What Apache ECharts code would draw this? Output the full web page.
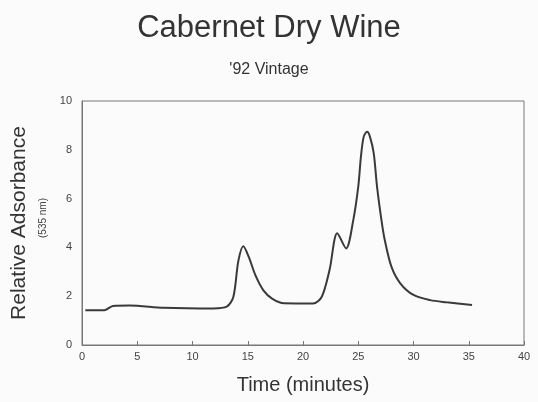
<!DOCTYPE html>
<html><head><meta charset="utf-8">
<script src="https://cdn.jsdelivr.net/npm/echarts@6/dist/echarts.min.js"></script>
<style>html,body{margin:0;padding:0;background:#fbfbfb}#c{width:538px;height:402px}</style>
</head><body><div id="c"></div>
<script>
var times = [0.3, 2.0, 2.8, 4.3, 7.4, 11.9, 13.1, 13.7, 14.15, 14.6, 15.1, 15.7, 16.4, 17.2, 18.3, 20.9, 21.7, 22.4, 23.1, 23.9, 24.55, 25.0, 25.25, 25.5, 25.8, 26.05, 26.4, 26.7, 27.1, 27.4, 28.0, 28.8, 30.0, 31.5, 33.0, 35.3];
var absorbance = [1.42, 1.42, 1.60, 1.62, 1.53, 1.50, 1.57, 1.98, 3.45, 4.05, 3.60, 2.85, 2.25, 1.90, 1.71, 1.70, 1.98, 3.07, 4.58, 3.96, 5.12, 6.49, 7.75, 8.55, 8.74, 8.55, 7.86, 6.49, 5.12, 4.30, 3.21, 2.53, 2.05, 1.84, 1.75, 1.64];
var xTicks = [0, 5, 10, 15, 20, 25, 30, 35, 40];
var yTicks = [0, 2, 4, 6, 8, 10];

var chart = echarts.init(document.getElementById('c'));
var txt = '#444';
var ff = '"Liberation Sans", Arial, sans-serif';
chart.setOption({
  backgroundColor: '#fbfbfb',
  animation: false,
  title: [
    {text: 'Cabernet Dry Wine', left: 'center', top: 8, textStyle: {fontFamily: ff, fontSize: 31, fontWeight: 'normal', color: '#333'}},
    {text: "'92 Vintage", left: 'center', top: 57, textStyle: {fontFamily: ff, fontSize: 16, fontWeight: 'normal', color: '#333'}}
  ],
  grid: {left: 82, right: 14, top: 101, bottom: 57, show: true, borderColor: '#777', borderWidth: 1, backgroundColor: 'transparent'},
  xAxis: {
    type: 'value', min: xTicks[0], max: xTicks[xTicks.length-1], interval: 5,
    name: 'Time (minutes)', nameLocation: 'middle', nameGap: 30,
    nameTextStyle: {fontFamily: ff, fontSize: 20, color: '#333'},
    axisLine: {lineStyle: {color: '#777'}},
    axisTick: {inside: true, length: 4, lineStyle: {color: '#777'}},
    axisLabel: {fontFamily: ff, fontSize: 11, color: txt, margin: 6},
    splitLine: {show: false}
  },
  yAxis: {
    type: 'value', min: yTicks[0], max: yTicks[yTicks.length-1], interval: 2,
    name: 'Relative Adsorbance', nameLocation: 'middle', nameGap: 52, nameRotate: 90,
    nameTextStyle: {fontFamily: ff, fontSize: 21, color: '#333'},
    axisLine: {lineStyle: {color: '#777'}},
    axisTick: {show: false},
    axisLabel: {fontFamily: ff, fontSize: 11, color: txt, margin: 10},
    splitLine: {show: false}
  },
  graphic: [{
    type: 'text', x: 43, y: 218, rotation: Math.PI/2, style: {text: '(535 nm)', font: '10px ' + ff, fill: '#444', align: 'center', verticalAlign: 'middle'}
  }],
  series: [{
    type: 'line', data: times.map(function(t, i){return [t, absorbance[i]];}),
    smooth: 0.3, showSymbol: false, lineStyle: {color: '#3a3a3a', width: 2}
  }]
});
</script></body></html>
